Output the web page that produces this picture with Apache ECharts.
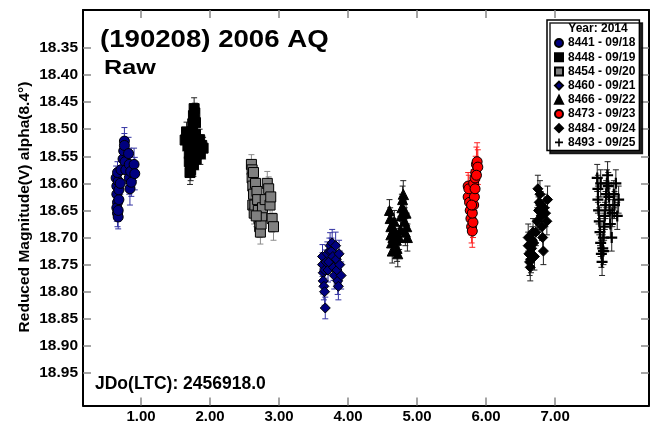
<!DOCTYPE html>
<html>
<head>
<meta charset="utf-8">
<title>(190208) 2006 AQ</title>
<script src="https://cdn.jsdelivr.net/npm/echarts@6/dist/echarts.min.js"></script>
<style>
  html, body { margin: 0; padding: 0; background: #fff; }
  #main { width: 650px; height: 423px; }
</style>
</head>
<body>
<div id="main"></div>
<script>
// each session: [day offset, reduced magnitude, error]
const s8441 = [
  [0.64, 18.590, 0.022], [0.65, 18.605, 0.022], [0.65, 18.620, 0.024], [0.66, 18.635, 0.024],
  [0.65, 18.645, 0.025], [0.66, 18.655, 0.025], [0.67, 18.662, 0.022], [0.67, 18.650, 0.020],
  [0.68, 18.630, 0.022], [0.68, 18.612, 0.020], [0.67, 18.596, 0.020], [0.66, 18.580, 0.020],
  [0.70, 18.600, 0.020], [0.71, 18.575, 0.020], [0.74, 18.555, 0.020], [0.75, 18.540, 0.022],
  [0.76, 18.522, 0.025], [0.76, 18.530, 0.022], [0.77, 18.560, 0.020], [0.78, 18.575, 0.025],
  [0.82, 18.545, 0.030], [0.83, 18.565, 0.030], [0.83, 18.590, 0.030], [0.84, 18.610, 0.030],
  [0.85, 18.578, 0.028], [0.86, 18.598, 0.026], [0.90, 18.565, 0.030], [0.91, 18.582, 0.030]
]
const s8448 = [
  [1.64, 18.520, 0.020], [1.66, 18.505, 0.018], [1.68, 18.530, 0.018], [1.70, 18.545, 0.020],
  [1.70, 18.560, 0.022], [1.72, 18.575, 0.020], [1.72, 18.550, 0.020], [1.73, 18.525, 0.018],
  [1.74, 18.505, 0.018], [1.75, 18.490, 0.020], [1.76, 18.475, 0.020], [1.77, 18.462, 0.020],
  [1.78, 18.470, 0.018], [1.79, 18.488, 0.018], [1.79, 18.510, 0.020], [1.80, 18.530, 0.020],
  [1.80, 18.555, 0.020], [1.81, 18.540, 0.020], [1.82, 18.520, 0.018], [1.84, 18.535, 0.020],
  [1.85, 18.520, 0.020], [1.86, 18.545, 0.020], [1.88, 18.530, 0.020], [1.90, 18.535, 0.020],
  [1.71, 18.580, 0.022], [1.76, 18.565, 0.022]
]
const s8454 = [
  [2.60, 18.565, 0.018], [2.61, 18.575, 0.018], [2.61, 18.590, 0.018], [2.62, 18.605, 0.020],
  [2.63, 18.620, 0.020], [2.62, 18.640, 0.020], [2.64, 18.655, 0.020], [2.65, 18.640, 0.020],
  [2.66, 18.600, 0.020], [2.68, 18.615, 0.020], [2.69, 18.630, 0.020], [2.70, 18.650, 0.020],
  [2.71, 18.665, 0.020], [2.72, 18.680, 0.020], [2.73, 18.690, 0.022], [2.74, 18.675, 0.022],
  [2.75, 18.660, 0.022], [2.76, 18.645, 0.020], [2.80, 18.630, 0.022], [2.83, 18.600, 0.022],
  [2.85, 18.610, 0.022], [2.87, 18.640, 0.022], [2.88, 18.625, 0.022], [2.90, 18.665, 0.025],
  [2.92, 18.680, 0.025], [2.63, 18.580, 0.018], [2.67, 18.660, 0.020]
]
const s8460 = [
  [3.63, 18.735, 0.022], [3.63, 18.750, 0.022], [3.64, 18.765, 0.022], [3.64, 18.780, 0.024],
  [3.65, 18.790, 0.025], [3.66, 18.800, 0.025], [3.67, 18.830, 0.020], [3.66, 18.760, 0.022],
  [3.68, 18.745, 0.022], [3.70, 18.730, 0.022], [3.71, 18.760, 0.022], [3.72, 18.745, 0.022],
  [3.73, 18.725, 0.024], [3.74, 18.715, 0.024], [3.76, 18.725, 0.024], [3.77, 18.710, 0.025],
  [3.78, 18.735, 0.024], [3.79, 18.755, 0.024], [3.80, 18.770, 0.025], [3.82, 18.715, 0.025],
  [3.83, 18.740, 0.025], [3.84, 18.760, 0.025], [3.85, 18.780, 0.025], [3.86, 18.790, 0.025],
  [3.88, 18.750, 0.025], [3.90, 18.770, 0.025], [3.87, 18.730, 0.025]
]
const s8466 = [
  [4.60, 18.650, 0.020], [4.61, 18.665, 0.020], [4.62, 18.680, 0.020], [4.62, 18.695, 0.022],
  [4.63, 18.710, 0.022], [4.64, 18.725, 0.022], [4.65, 18.700, 0.022], [4.66, 18.685, 0.020],
  [4.67, 18.670, 0.020], [4.68, 18.690, 0.022], [4.70, 18.705, 0.022], [4.71, 18.720, 0.024],
  [4.72, 18.730, 0.024], [4.74, 18.700, 0.022], [4.76, 18.685, 0.024], [4.77, 18.660, 0.024],
  [4.78, 18.645, 0.025], [4.79, 18.630, 0.025], [4.80, 18.620, 0.025], [4.81, 18.650, 0.025],
  [4.82, 18.670, 0.025], [4.83, 18.690, 0.025], [4.85, 18.680, 0.025], [4.86, 18.700, 0.025],
  [4.84, 18.655, 0.025]
]
const s8473 = [
  [5.74, 18.605, 0.025], [5.74, 18.625, 0.025], [5.75, 18.610, 0.025], [5.76, 18.635, 0.028],
  [5.77, 18.650, 0.028], [5.78, 18.665, 0.030], [5.79, 18.680, 0.030], [5.80, 18.688, 0.030],
  [5.81, 18.672, 0.028], [5.80, 18.655, 0.028], [5.82, 18.640, 0.025], [5.83, 18.625, 0.025],
  [5.82, 18.600, 0.025], [5.84, 18.590, 0.028], [5.85, 18.580, 0.030], [5.86, 18.565, 0.032],
  [5.87, 18.560, 0.035], [5.88, 18.570, 0.032], [5.86, 18.585, 0.030], [5.84, 18.610, 0.025],
  [5.79, 18.640, 0.028]
]
const s8484 = [
  [6.61, 18.700, 0.025], [6.61, 18.715, 0.025], [6.62, 18.730, 0.025], [6.63, 18.745, 0.025],
  [6.64, 18.755, 0.025], [6.65, 18.740, 0.025], [6.66, 18.720, 0.025], [6.67, 18.705, 0.025],
  [6.68, 18.690, 0.025], [6.69, 18.710, 0.025], [6.70, 18.735, 0.025], [6.72, 18.690, 0.025],
  [6.74, 18.670, 0.025], [6.76, 18.650, 0.025], [6.77, 18.635, 0.025], [6.78, 18.620, 0.025],
  [6.79, 18.640, 0.025], [6.80, 18.660, 0.025], [6.81, 18.680, 0.025], [6.82, 18.700, 0.025],
  [6.83, 18.725, 0.025], [6.84, 18.645, 0.025], [6.86, 18.655, 0.025], [6.88, 18.670, 0.025],
  [6.89, 18.630, 0.025], [6.75, 18.610, 0.025]
]
const s8493 = [
  [7.61, 18.590, 0.025], [7.62, 18.610, 0.025], [7.62, 18.630, 0.025], [7.63, 18.650, 0.025],
  [7.64, 18.670, 0.025], [7.65, 18.690, 0.025], [7.66, 18.710, 0.025], [7.67, 18.730, 0.025],
  [7.68, 18.745, 0.025], [7.69, 18.720, 0.025], [7.70, 18.700, 0.025], [7.71, 18.680, 0.025],
  [7.72, 18.660, 0.025], [7.73, 18.640, 0.025], [7.74, 18.620, 0.025], [7.75, 18.600, 0.025],
  [7.76, 18.585, 0.025], [7.77, 18.605, 0.025], [7.78, 18.625, 0.025], [7.79, 18.650, 0.025],
  [7.80, 18.675, 0.025], [7.82, 18.700, 0.025], [7.83, 18.655, 0.025], [7.85, 18.620, 0.025],
  [7.86, 18.640, 0.025], [7.88, 18.600, 0.025], [7.90, 18.660, 0.025], [7.92, 18.630, 0.025],
  [7.66, 18.600, 0.025], [7.70, 18.725, 0.025]
]

const xTicks = [1, 2, 3, 4, 5, 6, 7]
const yTicks = [18.35, 18.40, 18.45, 18.50, 18.55, 18.60, 18.65, 18.70, 18.75, 18.80, 18.85, 18.90, 18.95]

const font = 'Liberation Sans, Arial, sans-serif'
const plus = 'path://M4,0H6V4H10V6H6V10H4V6H0V4H4Z'

const sessions = [
  { name: '8441 - 09/18', data: s8441, symbol: 'circle', size: 10, color: '#000080', bar: '#3434a4' },
  { name: '8448 - 09/19', data: s8448, symbol: 'rect', size: 10, color: '#000000', bar: '#222222' },
  { name: '8454 - 09/20', data: s8454, symbol: 'rect', size: 10, color: '#808080', bar: '#8c8c8c' },
  { name: '8460 - 09/21', data: s8460, symbol: 'diamond', size: 10, color: '#000080', bar: '#3434a4' },
  { name: '8466 - 09/22', data: s8466, symbol: 'triangle', size: 10, color: '#000000', bar: '#222222' },
  { name: '8473 - 09/23', data: s8473, symbol: 'circle', size: 10, color: '#ff0000', bar: '#ff2020' },
  { name: '8484 - 09/24', data: s8484, symbol: 'diamond', size: 10, color: '#000000', bar: '#222222' },
  { name: '8493 - 09/25', data: s8493, symbol: plus, size: 11, color: '#000000', bar: '#222222' }
]

// vertical error bar with small caps
const errorBar = (color) => (params, api) => {
  const x = api.value(0)
  const y = api.value(1)
  const e = api.value(2)
  const hi = api.coord([x, y - e])
  const lo = api.coord([x, y + e])
  const w = 3
  const st = { stroke: color, lineWidth: 1 }
  return {
    type: 'group',
    children: [
      { type: 'line', shape: { x1: hi[0], y1: hi[1], x2: lo[0], y2: lo[1] }, style: st },
      { type: 'line', shape: { x1: hi[0] - w, y1: hi[1], x2: hi[0] + w, y2: hi[1] }, style: st },
      { type: 'line', shape: { x1: lo[0] - w, y1: lo[1], x2: lo[0] + w, y2: lo[1] }, style: st }
    ]
  }
}

const series = []
sessions.forEach((s) => {
  series.push({
    type: 'custom',
    name: s.name + ' err',
    data: s.data,
    encode: { x: 0, y: 1 },
    renderItem: errorBar(s.bar),
    silent: true,
    z: 2
  })
  series.push({
    type: 'scatter',
    name: s.name,
    data: s.data.map((d) => [d[0], d[1]]),
    symbol: s.symbol,
    symbolSize: s.size,
    itemStyle: { color: s.color, borderColor: '#000', borderWidth: s.symbol === plus ? 0 : 1, opacity: 1 },
    z: 3
  })
})

const xMin = 0.16, xMax = 8.36
const yMin = 18.28, yMax = 19.01

const frameX = (pos, labels) => ({
  type: 'value', position: pos, min: xMin, max: xMax,
  axisLine: { show: true, onZero: false, lineStyle: { color: '#000', width: 2 } },
  axisTick: { show: true, inside: true, length: 8, customValues: xTicks, lineStyle: { color: '#888', width: 1.5 } },
  axisLabel: {
    show: labels, customValues: xTicks, margin: 4,
    fontFamily: font, fontWeight: 'bold', fontSize: 15, color: '#000',
    formatter: (v) => v.toFixed(2)
  },
  splitLine: { show: false }
})
const frameY = (pos, labels) => ({
  type: 'value', position: pos, min: yMin, max: yMax, inverse: true,
  axisLine: { show: true, onZero: false, lineStyle: { color: '#000', width: 2 } },
  axisTick: { show: true, inside: true, length: 8, customValues: yTicks, lineStyle: { color: '#888', width: 1.5 } },
  axisLabel: {
    show: labels, customValues: yTicks, margin: 5,
    fontFamily: font, fontWeight: 'bold', fontSize: 15.5, color: '#000',
    formatter: (v) => v.toFixed(2)
  },
  splitLine: { show: false }
})

const chart = echarts.init(document.getElementById('main'))
chart.setOption({
  animation: false,
  backgroundColor: '#fff',
  grid: { left: 83, right: 1, top: 10, bottom: 17.5, outerBoundsMode: 'none' },
  xAxis: [frameX('bottom', true), frameX('top', false)],
  yAxis: [frameY('left', true), frameY('right', false)],
  legend: {
    orient: 'vertical',
    left: 547,
    top: 20,
    data: sessions.map((s) => s.name),
    selectedMode: false,
    padding: [17, 4, 2, 7],
    itemWidth: 8,
    itemHeight: 8,
    itemGap: 2.2,
    textStyle: { fontFamily: font, fontWeight: 'bold', fontSize: 12, lineHeight: 12, color: '#000' },
    backgroundColor: '#fff',
    borderColor: '#000',
    borderWidth: 1.5,
    borderRadius: 0,
    shadowColor: 'rgba(0,0,0,0.85)',
    shadowOffsetX: 3,
    shadowOffsetY: 3,
    shadowBlur: 0.1
  },
  graphic: [
    {
      type: 'text', x: 100, y: 40.5, scaleX: 1.15, z: 10,
      style: { text: '(190208) 2006 AQ', fontFamily: font, fontWeight: 'bold', fontSize: 24, fill: '#000', verticalAlign: 'middle' }
    },
    {
      type: 'text', x: 104, y: 68.5, scaleX: 1.2, z: 10,
      style: { text: 'Raw', fontFamily: font, fontWeight: 'bold', fontSize: 21, fill: '#000', verticalAlign: 'middle' }
    },
    {
      type: 'text', x: 95, y: 384.5, z: 10,
      style: { text: 'JDo(LTC): 2456918.0', fontFamily: font, fontWeight: 'bold', fontSize: 17.5, fill: '#000', verticalAlign: 'middle' }
    },
    {
      type: 'text', x: 25, y: 207, rotation: Math.PI / 2, z: 10,
      style: { text: 'Reduced Magnitude(V) alpha(8.4°)', fontFamily: font, fontWeight: 'bold', fontSize: 15.5, fill: '#000', align: 'center', verticalAlign: 'middle' }
    },
    {
      type: 'text', x: 598, y: 29, z: 100,
      style: { text: 'Year: 2014', fontFamily: font, fontWeight: 'bold', fontSize: 12, fill: '#000', align: 'center', verticalAlign: 'middle' }
    }
  ],
  series: series
})
</script>
</body>
</html>
